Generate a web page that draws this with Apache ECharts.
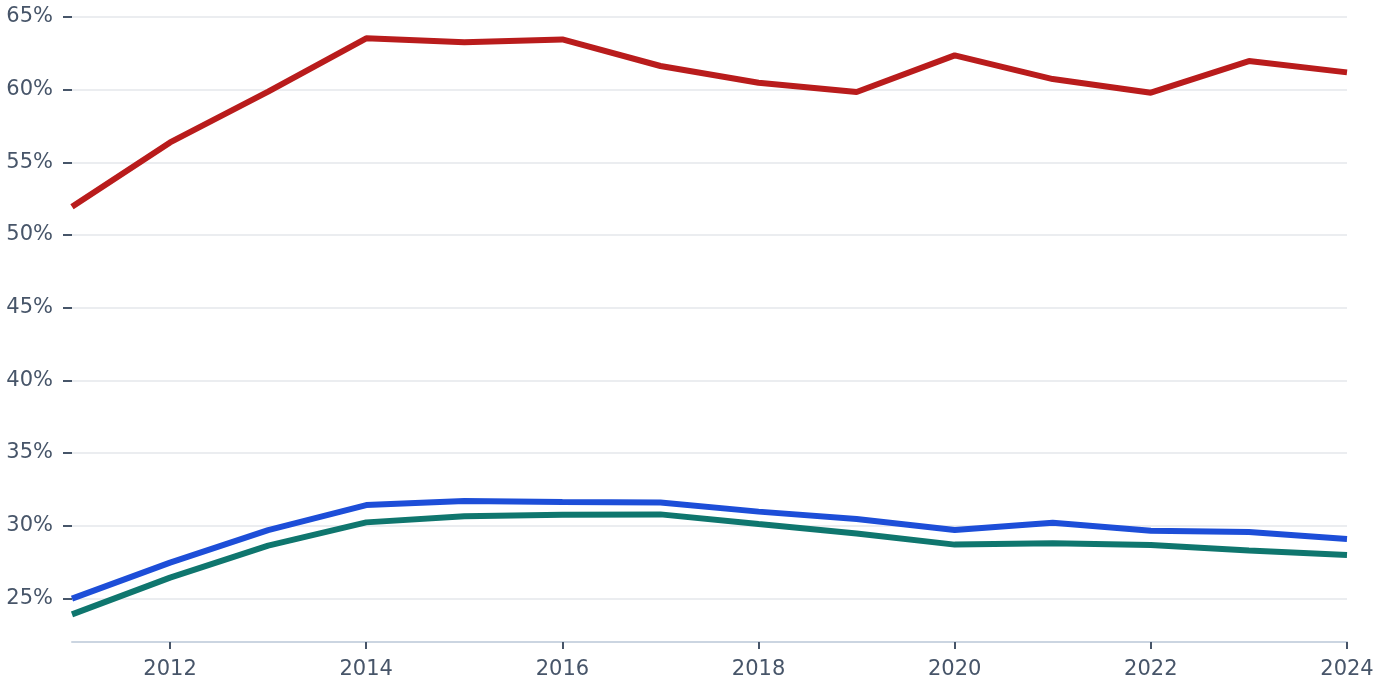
<!DOCTYPE html>
<html>
	<head>
		<meta charset="utf-8">
		<title>chart</title>
		<script src="https://cdn.jsdelivr.net/npm/echarts@6.0.0/dist/echarts.min.js"></script>
		<style>
			html, body { margin: 0; padding: 0; background: #fff; }
			#main { width: 1384px; height: 683px; }
		</style>
	</head>
	<body>
		<div id="main"></div>
		<script type="text/javascript">
			// data
			var years = ['2011','2012','2013','2014','2015','2016','2017','2018','2019','2020','2021','2022','2023','2024'];
			var redVals = [51.94, 56.37, 59.86, 63.53, 63.26, 63.46, 61.63, 60.48, 59.84, 62.36, 60.73, 59.79, 61.97, 61.19];
			var blueVals = [24.98, 27.46, 29.70, 31.42, 31.70, 31.63, 31.59, 30.97, 30.46, 29.70, 30.21, 29.66, 29.57, 29.08];
			var tealVals = [23.90, 26.43, 28.63, 30.23, 30.65, 30.76, 30.78, 30.12, 29.47, 28.70, 28.79, 28.68, 28.29, 27.98];
			var yTicks = [25, 30, 35, 40, 45, 50, 55, 60, 65];

			var chart = echarts.init(document.getElementById('main'));
			var labelColor = '#475569';
			var evenYear = function (i, v) { return Number(v) % 2 === 0; };

			function line(name, data, color) {
				return {
					name: name,
					type: 'line',
					data: data,
					symbol: 'none',
					lineStyle: { color: color, width: 6 },
					itemStyle: { color: color },
					animation: false
				};
			}

			var option = {
				animation: false,
				textStyle: { fontFamily: 'DejaVu Sans' },
				grid: { left: 72, right: 37, top: 17, bottom: 41, containLabel: false },
				xAxis: {
					type: 'category',
					data: years,
					boundaryGap: false,
					z: 5,
					axisLine: { show: true, lineStyle: { color: '#cbd5e1', width: 2 } },
					axisTick: { show: true, interval: evenYear, length: 7, lineStyle: { color: labelColor, width: 2 } },
					axisLabel: { interval: evenYear, color: labelColor, fontSize: 21, margin: 17, fontFamily: 'DejaVu Sans' },
					splitLine: { show: false }
				},
				yAxis: {
					type: 'value',
					min: 22,
					max: 65,
					splitNumber: 8,
					axisLine: { show: false },
					axisTick: { show: true, customValues: yTicks, length: 9, lineStyle: { color: labelColor, width: 2 } },
					axisLabel: {
						customValues: yTicks,
						color: labelColor, fontSize: 21, margin: 19, fontFamily: 'DejaVu Sans',
						padding: [4, 0, 0, 0],
						formatter: function (v) { return v + '%'; }
					},
					splitLine: { show: true, lineStyle: { color: '#e5e7eb', width: 1.5 } }
				},
				series: [
					line('red', redVals, '#b91c1c'),
					line('blue', blueVals, '#1d4ed8'),
					line('teal', tealVals, '#0f766e')
				]
			};
			chart.setOption(option);
		</script>
	</body>
</html>
